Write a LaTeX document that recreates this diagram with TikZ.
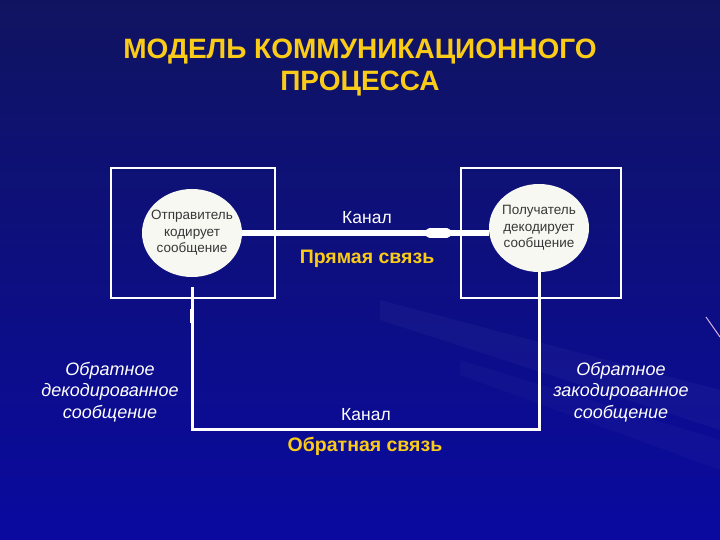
\documentclass[tikz,border=0pt]{standalone}
\usepackage{fontspec}
\setmainfont{Liberation Sans}
\usetikzlibrary{shapes.geometric,calc}

\definecolor{bgtop}{RGB}{16,20,96}
\definecolor{bgmid}{RGB}{6,6,172}
\definecolor{bgbot}{RGB}{10,10,160}
\definecolor{gold}{RGB}{250,204,24}
\definecolor{bubble}{RGB}{248,248,242}
\definecolor{ink}{RGB}{55,55,55}

\begin{document}
\begin{tikzpicture}[x=1pt, y=-1pt,
    title/.style={font=\fontsize{28}{32}\selectfont\bfseries, text=gold, align=center},
    party/.style={ellipse, fill=bubble, minimum width=100pt, minimum height=88pt, inner sep=0pt},
    partytext/.style={align=center, text=ink, font=\fontsize{13.5}{16.5}\selectfont},
    frame/.style={draw=white, line width=2pt, inner sep=0pt, minimum height=129pt},
    chan/.style={font=\fontsize{17.5}{20}\selectfont, text=white},
    kind/.style={font=\fontsize{19.5}{22}\selectfont\bfseries, text=gold},
    note/.style={font=\fontsize{18}{21.5}\selectfont\itshape, text=white, align=center},
    fwd/.style={draw=white, line width=5pt},
    back/.style={draw=white, line width=3pt},
]

% Background
\useasboundingbox (0,0) rectangle (720,540);
\shade[top color=bgtop, middle color=bgmid, bottom color=bgbot] (0,0) rectangle (720,540);
\fill[white, opacity=0.03] (380,300) -- (720,390) -- (720,430) -- (380,320) -- cycle;
\fill[white, opacity=0.025] (460,360) -- (720,440) -- (720,470) -- (460,375) -- cycle;
\draw[violet!30!white, line width=1pt] (706,317) -- (720,337);

% Title
\node[title] (title) at (360,68) {МОДЕЛЬ КОММУНИКАЦИОННОГО\\ПРОЦЕССА};

% Frames round the two parties
\node[frame, minimum width=164pt] (sbox) at (193,233) {};
\node[frame, minimum width=160pt] (rbox) at (541,233) {};

% Parties
\node[party, label={[partytext]center:Отправитель\\кодирует\\сообщение}] (sender) at (192,233) {};
\node[party, label={[partytext]center:Получатель\\декодирует\\сообщение}] (receiver) at (539,228) {};

% Forward channel
\draw[fwd] (sender.east) -- (sender.east -| receiver.west);
\draw[white, line width=9pt, line cap=round] ($(sender.east)!.76!(sender.east -| receiver.west)$) -- ($(sender.east)!.83!(sender.east -| receiver.west)$);
\node[chan] (fwdchan) at (367,218) {Канал};
\node[kind] (fwdkind) at (367,259) {Прямая связь};

% Feedback channel
\coordinate (fbend) at ($(sender.south)+(0,10)$);
\draw[back] (receiver.south) -- ++(0,157) -| (fbend);
\draw[white, line width=4.5pt] ($(fbend)+(0,22)$) -- ++(0,14);
\node[chan] (backchan) at (366,415) {Канал};
\node[kind] (backkind) at (365,446) {Обратная связь};

% Side notes
\node[note] (decoded) at (110,392) {Обратное\\декодированное\\сообщение};
\node[note] (encoded) at (621,392) {Обратное\\закодированное\\сообщение};

\end{tikzpicture}
\end{document}
